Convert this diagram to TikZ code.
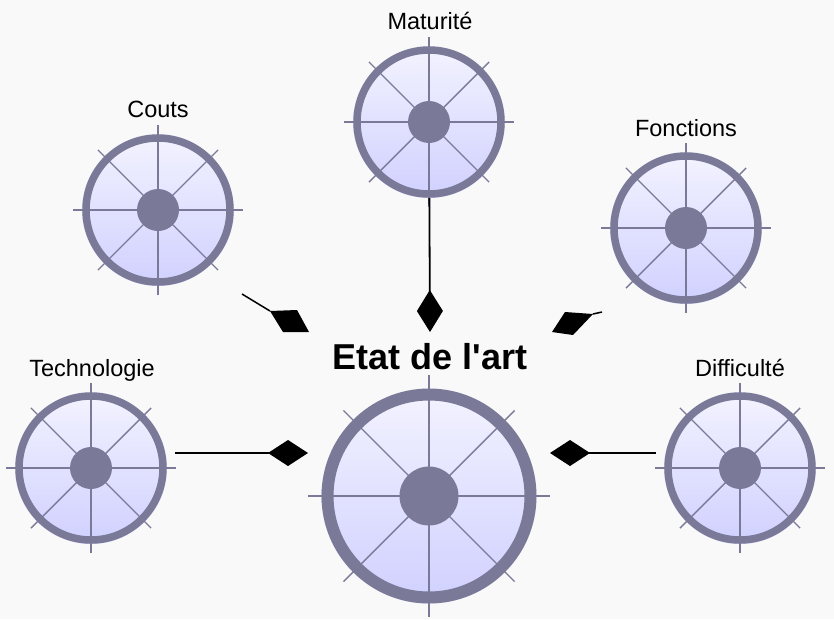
\documentclass[tikz,border=0pt]{standalone}
\usepackage{fontspec}
\setmainfont{Liberation Sans}
\usetikzlibrary{arrows.meta}
\definecolor{bgc}{RGB}{249,249,249}
\definecolor{ringc}{RGB}{122,122,152}
\definecolor{topc}{RGB}{243,243,255}
\definecolor{botc}{RGB}{208,208,255}
\tikzset{
  wheelbody/.style={circle, inner sep=0pt, top color=topc, bottom color=botc, draw=none},
  spoke/.style={draw=ringc, line width=1.4pt},
  lbl/.style={font=\fontsize{23.5}{26}\selectfont, anchor=base, inner sep=0pt},
  ttl/.style={font=\fontsize{36}{39}\selectfont\bfseries, anchor=base, inner sep=0pt},
  conn/.style={draw=black, line width=1.8pt},
  dtip/.style={fill=black},
}
% name, center, ring-center radius, ring width, hub radius, spoke length, node size
\newcommand\wheelnode[7]{%
  \node[wheelbody, minimum size=#7] (#1) at (#2) {};
  \foreach \a in {0,45,...,315} \draw[spoke] (#1.center) -- ++(\a:#6);
  \draw[ringc, line width=#4] (#1.center) circle (#3);
  \fill[ringc] (#1.center) circle (#5);
}
\begin{document}
\begin{tikzpicture}[x=1pt,y=-1pt]
\useasboundingbox[fill=bgc] (0,0) rectangle (834,619);

\wheelnode{etat}{429,496}{101.5pt}{12pt}{29.5pt}{121pt}{215pt}
\wheelnode{mat}{429,122}{72pt}{7.5pt}{21pt}{85pt}{152pt}
\wheelnode{couts}{158,210}{72pt}{7.5pt}{21pt}{85pt}{152pt}
\wheelnode{fonc}{686,228}{72pt}{7.5pt}{21pt}{85pt}{152pt}
\wheelnode{tech}{91,468}{72pt}{7.5pt}{21pt}{85pt}{152pt}
\wheelnode{diff}{740,468}{72pt}{7.5pt}{21pt}{85pt}{152pt}

\node[ttl] (tetat) at (430,369) {Etat de l\textquotesingle art};
\node[lbl] (lmat) at (430,29) {Maturité};
\node[lbl] (lcouts) at (158,117) {Couts};
\node[lbl] (lfonc) at (686,136) {Fonctions};
\node[lbl] (ltech) at (92,376) {Technologie};
\node[lbl] (ldiff) at (740,376) {Difficulté};

% connectors
\coordinate (tipM) at (430,332);
\coordinate (tipT) at (308,453);
\coordinate (tipD) at (550,453);
\coordinate (cC) at (270,311);
\coordinate (cF) at (593,314);

\draw[conn, -{Diamond[length=42pt,width=26pt]}] (mat) -- (tipM);
\draw[conn, -{Diamond[length=40pt,width=26pt]}] ([xshift=8pt]tech.east |- tipT) -- (tipT);
\draw[conn, -{Diamond[length=40pt,width=26pt]}] ([xshift=-8pt]diff.west |- tipD) -- (tipD);

\draw[conn, line width=1.5pt] (242,294) -- (cC);
\fill[dtip] (cC) -- (297,310) -- (309,332) -- (283,332) -- cycle;
\draw[conn, line width=1.5pt] (602,312) -- (cF);
\fill[dtip] (cF) -- (565,312) -- (552,332) -- (573,335) -- cycle;
\end{tikzpicture}
\end{document}
